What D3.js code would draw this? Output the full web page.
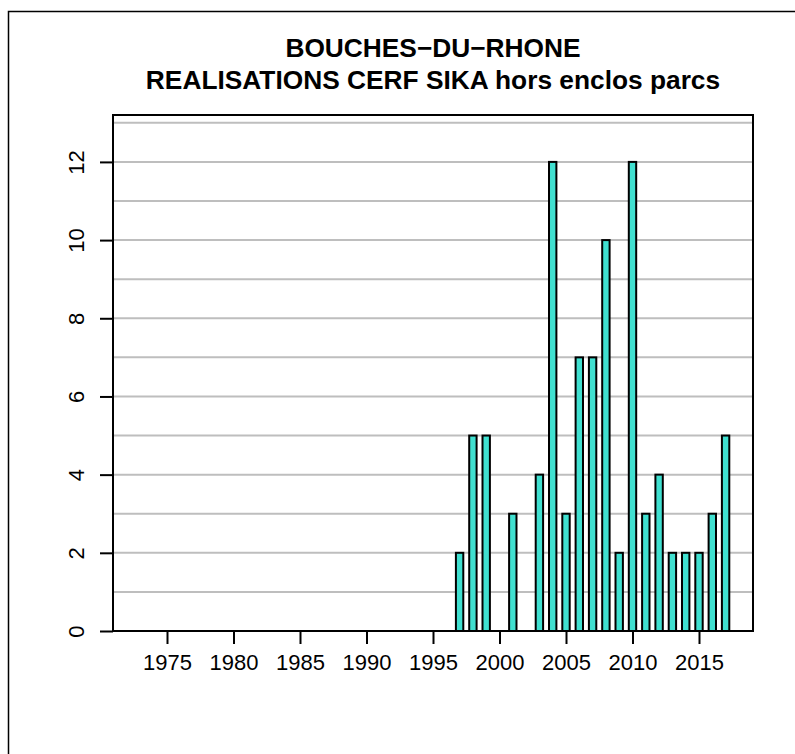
<!DOCTYPE html>
<html>
<head>
<meta charset="utf-8">
<script src="https://cdn.jsdelivr.net/npm/d3@7"></script>
<style>
	body { margin: 0; background: #fff; }
	text { font-family: "Liberation Sans", Arial, Helvetica, sans-serif; }
</style>
</head>
<body>
<div id="chart"></div>
<script>
// data
var years = d3.range(1973, 2018);
var counts = [0, 0, 0, 0, 0, 0, 0, 0, 0, 0,   // 1973-1982
	0, 0, 0, 0, 0, 0, 0, 0, 0, 0,             // 1983-1992
	0, 0, 0, 0, 2, 5, 5, 0, 3, 0,             // 1993-2002
	4, 12, 3, 7, 7, 10, 2, 12, 3, 4,          // 2003-2012
	2, 2, 2, 3, 5];                           // 2013-2017
var xTickYears = [1975, 1980, 1985, 1990, 1995, 2000, 2005, 2010, 2015];
var yTicks = [0, 2, 4, 6, 8, 10, 12];
var gridValues = d3.range(0, 14);
var titleLines = ["BOUCHES\u2212DU\u2212RHONE", "REALISATIONS CERF SIKA hors enclos parcs"];

var W = 795, H = 754;
var plot = {left: 113, right: 753, top: 115, bottom: 631};
var space = 0.8, barW = 1;

//bar slots as barplot does it: left edge = space + i*(space+width)
var barLeft = i => space + i*(space + barW);
var xmin = barLeft(0), xmax = barLeft(years.length - 1) + barW;
var pad = 0.04*(xmax - xmin);

var x = d3.scaleLinear()
	.domain([xmin - pad, xmax + pad])
	.range([plot.left, plot.right]);
var y = d3.scaleLinear()
	.domain([0, d3.max(counts)*1.1])
	.range([plot.bottom, plot.top]);

var svg = d3.select("#chart").append("svg")
	.attr("width", W)
	.attr("height", H);

svg.append("rect").attr("width", W).attr("height", H).attr("fill", "#fff");

// outer frame (only top and left fall inside the picture)
svg.append("rect")
	.attr("x", 8.5).attr("y", 11.5)
	.attr("width", W + 20).attr("height", H + 20)
	.attr("fill", "none")
	.attr("stroke", "#000")
	.attr("stroke-width", 1.5);

// title
svg.selectAll("text.title")
	.data(titleLines)
	.enter().append("text")
	.attr("class", "title")
	.attr("x", (plot.left + plot.right)/2)
	.attr("y", (d, i) => 57 + i*31.7)
	.attr("text-anchor", "middle")
	.attr("font-weight", "bold")
	.attr("font-size", "26.3px")
	.text(d => d);

// grid
svg.append("g")
	.selectAll("line")
	.data(gridValues)
	.enter().append("line")
	.attr("x1", plot.left).attr("x2", plot.right)
	.attr("y1", d => y(d)).attr("y2", d => y(d))
	.attr("stroke", "#bebebe")
	.attr("stroke-width", 2);

// box
svg.append("rect")
	.attr("x", plot.left).attr("y", plot.top)
	.attr("width", plot.right - plot.left)
	.attr("height", plot.bottom - plot.top)
	.attr("fill", "none")
	.attr("stroke", "#000")
	.attr("stroke-width", 2);

// bars
svg.append("g")
	.selectAll("rect")
	.data(counts)
	.enter().append("rect")
	.attr("x", (d, i) => x(barLeft(i)))
	.attr("width", (d, i) => x(barLeft(i) + barW) - x(barLeft(i)))
	.attr("y", d => y(d))
	.attr("height", d => y(0) - y(d))
	.attr("fill", "#40e0d0")
	.attr("stroke", "#000")
	.attr("stroke-width", 2);

// x axis, ticks under the bar centres
var xAxis = svg.append("g")
	.attr("transform", "translate(0," + plot.bottom + ")")
	.call(d3.axisBottom(x)
		.tickValues(xTickYears.map(yr => barLeft(years.indexOf(yr)) + barW/2))
		.tickFormat((d, i) => xTickYears[i])
		.tickSize(13)
		.tickPadding(10));
xAxis.select(".domain").remove();
xAxis.selectAll(".tick line").attr("stroke", "#000").attr("stroke-width", 2);
xAxis.selectAll(".tick text")
	.attr("font-size", "22px")
	.attr("font-family", null)
	.attr("fill", "#000");

// y axis, rotated labels
var yAxis = svg.append("g")
	.attr("transform", "translate(" + plot.left + ",0)")
	.call(d3.axisLeft(y).tickValues(yTicks).tickSize(13).tickFormat(d3.format("d")));
yAxis.select(".domain").remove();
yAxis.selectAll(".tick line").attr("stroke", "#000").attr("stroke-width", 2);
yAxis.selectAll(".tick text")
	.attr("x", null).attr("dy", null)
	.attr("text-anchor", "middle")
	.attr("transform", "translate(-29.5,0) rotate(-90)")
	.attr("font-size", "22px")
	.attr("font-family", null)
	.attr("fill", "#000");
</script>
</body>
</html>
